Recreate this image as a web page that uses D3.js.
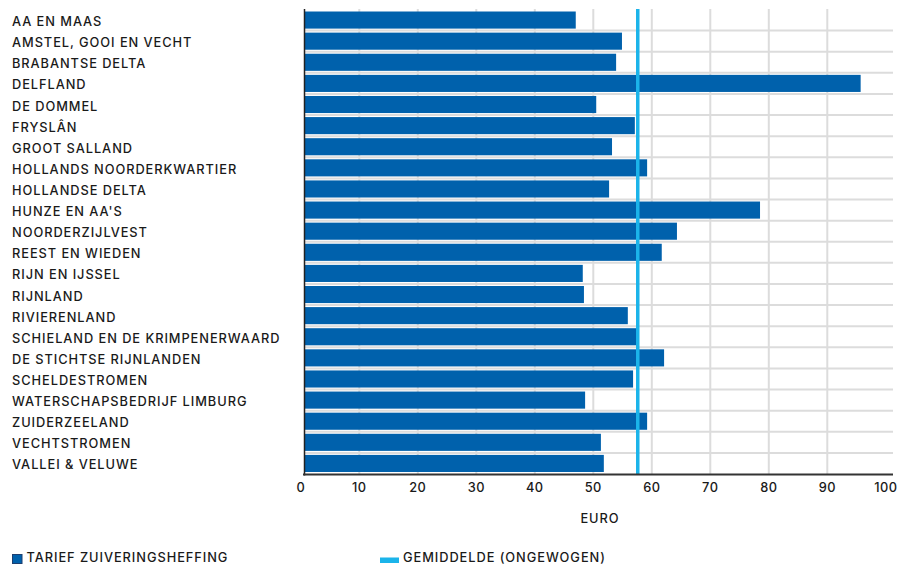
<!DOCTYPE html>
<html><head><meta charset="utf-8">
<script src="https://cdn.jsdelivr.net/npm/d3@7"></script>
<style>
html,body{margin:0;padding:0;background:#fff;}
svg text{font-family:"Inter",sans-serif;font-weight:500;fill:#1a1a1a;}
</style></head>
<body><svg id="c" width="899" height="564"></svg>
<script>
const categories = ["AA EN MAAS","AMSTEL, GOOI EN VECHT","BRABANTSE DELTA","DELFLAND","DE DOMMEL","FRYSLÂN","GROOT SALLAND","HOLLANDS NOORDERKWARTIER","HOLLANDSE DELTA","HUNZE EN AA'S","NOORDERZIJLVEST","REEST EN WIEDEN","RIJN EN IJSSEL","RIJNLAND","RIVIERENLAND","SCHIELAND EN DE KRIMPENERWAARD","DE STICHTSE RIJNLANDEN","SCHELDESTROMEN","WATERSCHAPSBEDRIJF LIMBURG","ZUIDERZEELAND","VECHTSTROMEN","VALLEI & VELUWE"];
const tarief = [47.0,54.9,53.9,95.7,50.5,57.1,53.2,59.2,52.7,78.5,64.3,61.7,48.2,48.4,55.9,57.5,62.1,56.8,48.6,59.2,51.3,51.8];
const gemiddelde = 57.6;
const xTicks = [0,10,20,30,40,50,60,70,80,90,100];
const xTitle = "EURO";
const legendLabels = ["TARIEF ZUIVERINGSHEFFING","GEMIDDELDE (ONGEWOGEN)"];

const svg = d3.select("#c");
const x = d3.scaleLinear().domain([0,100]).range([300.8,885.8]);
const pad = 0.19;
const y = d3.scaleBand().domain(categories).range([9.5,474]).paddingInner(pad).paddingOuter(pad/2);
const step = y.step();
const barLeft = 305;
const rightEdge = 893;
const axisY = 474.5;
const fs = 12.8, ls = "0.95px";

// vertical grid
svg.append("g").selectAll("line").data(xTicks.filter(t=>t>0&&t<100)).join("line")
  .attr("x1",d=>x(d)).attr("x2",d=>x(d)).attr("y1",9).attr("y2",axisY)
  .attr("stroke","#dcdcdc").attr("stroke-width",2);
// horizontal grid between rows
svg.append("g").selectAll("line").data(categories.slice(1)).join("line")
  .attr("x1",barLeft).attr("x2",rightEdge)
  .attr("y1",d=>y(d)-step*pad/2).attr("y2",d=>y(d)-step*pad/2)
  .attr("stroke","#dcdcdc").attr("stroke-width",2);

// bars
svg.append("g").selectAll("rect").data(categories).join("rect")
  .attr("x",barLeft).attr("y",d=>y(d))
  .attr("width",(d,i)=>x(tarief[i])-barLeft).attr("height",y.bandwidth())
  .attr("fill","#0061ac");

// mean line
svg.append("line").attr("x1",x(gemiddelde)).attr("x2",x(gemiddelde))
  .attr("y1",9).attr("y2",axisY).attr("stroke","#1bb4ea").attr("stroke-width",3.5);

// axes lines
svg.append("line").attr("x1",304.5).attr("x2",304.5).attr("y1",9).attr("y2",axisY+1)
  .attr("stroke","#222").attr("stroke-width",1.5);
svg.append("line").attr("x1",303).attr("x2",rightEdge).attr("y1",axisY).attr("y2",axisY)
  .attr("stroke","#333").attr("stroke-width",2);

// category labels
svg.append("g").selectAll("text").data(categories).join("text")
  .attr("x",12).attr("y",d=>y(d)+y.bandwidth()/2+6)
  .attr("font-size",fs).attr("letter-spacing",ls).text(d=>d);

// tick labels
svg.append("g").selectAll("text").data(xTicks).join("text")
  .attr("x",d=>x(d)).attr("y",492).attr("text-anchor","middle")
  .attr("font-size",fs).attr("letter-spacing","0.5px").text(d=>d);

svg.append("text").attr("x",600).attr("y",523).attr("text-anchor","middle")
  .attr("font-size",fs).attr("letter-spacing",ls).text(xTitle);

// legend
svg.append("rect").attr("x",12.5).attr("y",554.5).attr("width",9.5).attr("height",9)
  .attr("fill","#0061ac").attr("stroke","#1d3f70").attr("stroke-width",1);
svg.append("text").attr("x",26.5).attr("y",562).attr("font-size",fs).attr("letter-spacing",ls).text(legendLabels[0]);
svg.append("rect").attr("x",380).attr("y",557.5).attr("width",19).attr("height",5.5).attr("fill","#1bb4ea");
svg.append("text").attr("x",403).attr("y",562).attr("font-size",fs).attr("letter-spacing",ls).text(legendLabels[1]);
</script></body></html>
